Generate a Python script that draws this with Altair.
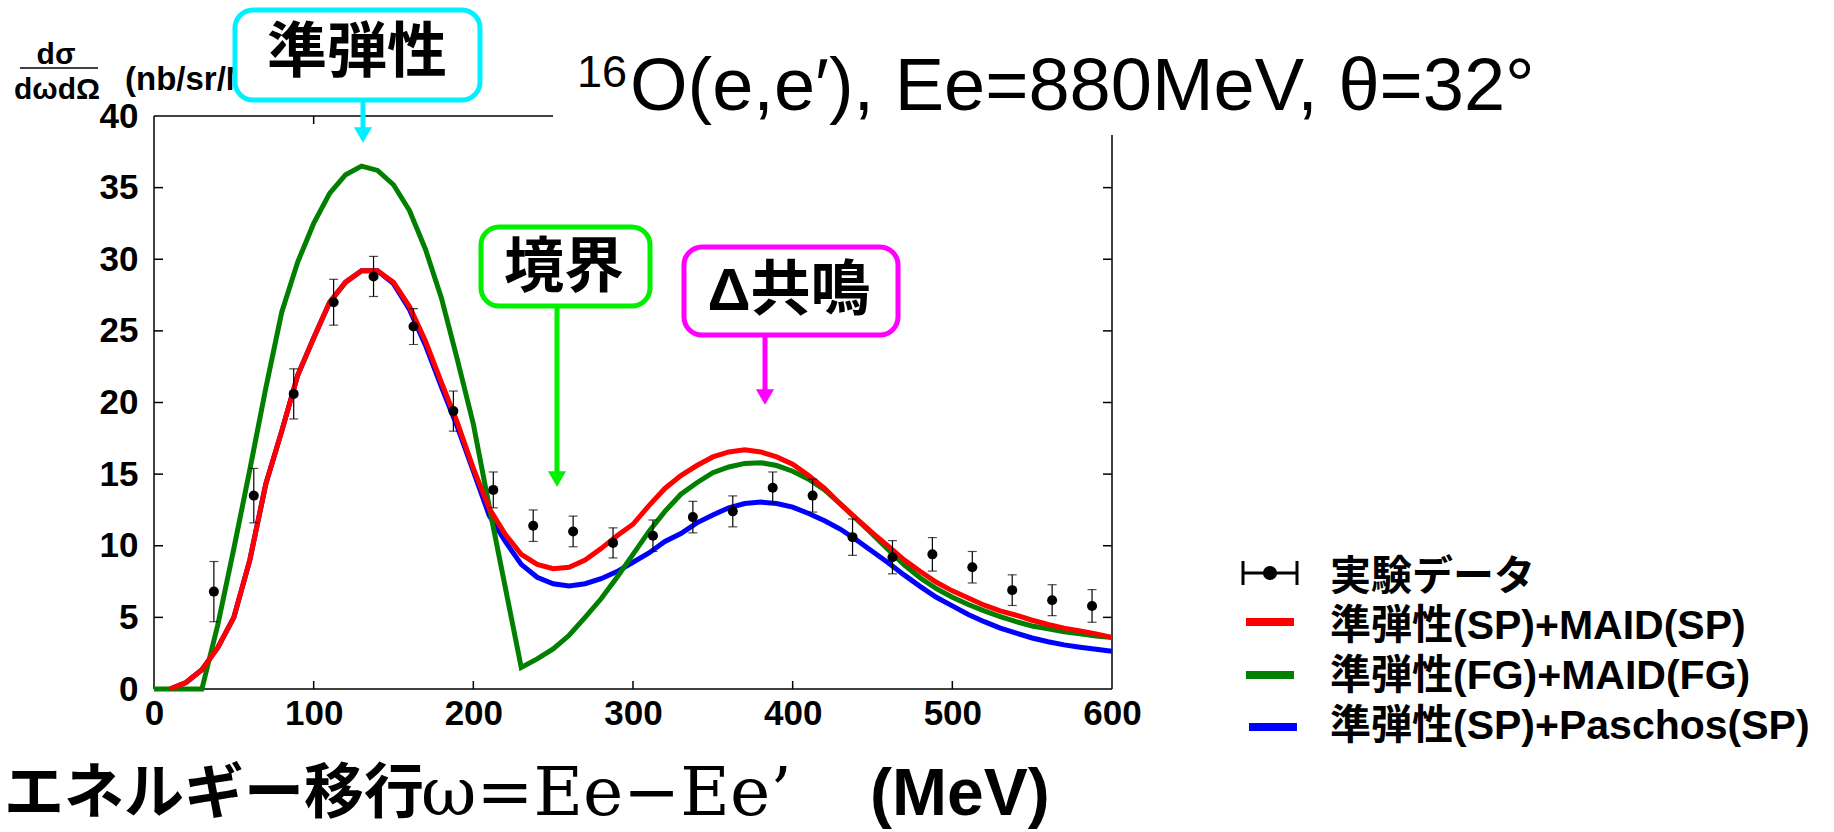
import altair as alt
import pandas as pd

# ---------------- data ----------------
curve_x = [0, 10, 20, 30, 40, 50, 60, 70, 80, 90, 100, 110, 120, 130, 140, 150, 160, 170, 180, 190,
           200, 210, 220, 230, 240, 250, 260, 270, 280, 290, 300, 310, 320, 330, 340, 350, 360, 370,
           380, 390, 400, 410, 420, 430, 440, 450, 460, 470, 480, 490, 500, 510, 520, 530, 540, 550,
           560, 570, 580, 590, 600]

# SP + MAID(SP)  (starts at x=10)
red_y = [0.0, 0.45, 1.35, 2.9, 5.0, 9.0, 14.3, 18.0, 21.9, 24.5, 27.0, 28.4, 29.2, 29.2, 28.4, 26.7,
         24.3, 21.4, 18.6, 15.4, 12.6, 10.8, 9.4, 8.7, 8.4, 8.5, 9.0, 9.8, 10.7, 11.5, 12.8, 14.0, 14.9,
         15.6, 16.2, 16.55, 16.7, 16.55, 16.2, 15.7, 14.9, 14.0, 12.9, 11.9, 10.9, 9.95, 9.0, 8.2, 7.45,
         6.85, 6.35, 5.85, 5.45, 5.15, 4.8, 4.5, 4.25, 4.05, 3.85, 3.6]
# SP + Paschos(SP)  (starts at x=10)
blue_y = [0.0, 0.45, 1.35, 2.9, 5.0, 9.0, 14.3, 18.0, 21.9, 24.5, 27.0, 28.4, 29.2, 29.2, 28.3, 26.5,
          24.0, 21.1, 18.3, 15.2, 12.1, 10.3, 8.7, 7.8, 7.35, 7.2, 7.35, 7.7, 8.2, 8.85, 9.5, 10.3, 10.85,
          11.6, 12.15, 12.65, 12.95, 13.05, 12.95, 12.7, 12.25, 11.75, 11.15, 10.4, 9.6, 8.8, 7.95, 7.15,
          6.4, 5.8, 5.2, 4.7, 4.25, 3.9, 3.56, 3.3, 3.08, 2.92, 2.78, 2.63]
# FG + MAID(FG)  (starts at x=0)
green_y = [0.0, 0.0, 0.0, 0.0, 4.5, 9.8, 15.3, 21.0, 26.3, 29.8, 32.5, 34.6, 35.9, 36.5, 36.2, 35.2, 33.4,
           30.7, 27.3, 23.0, 18.5, 12.7, 7.1, 1.5, 2.1, 2.8, 3.75, 5.0, 6.3, 7.8, 9.4, 11.0, 12.4, 13.6,
           14.4, 15.1, 15.5, 15.75, 15.8, 15.6, 15.2, 14.65, 13.9, 12.9, 11.85, 10.8, 9.7, 8.65, 7.75, 7.0,
           6.4, 5.9, 5.45, 5.05, 4.7, 4.4, 4.2, 4.0, 3.85, 3.7, 3.6]

exp_x = [37.5, 62.5, 87.5, 112.5, 137.5, 162.5, 187.5, 212.5, 237.5, 262.5, 287.5, 312.5, 337.5,
         362.5, 387.5, 412.5, 437.5, 462.5, 487.5, 512.5, 537.5, 562.5, 587.5]
exp_y = [6.8, 13.5, 20.6, 27.0, 28.8, 25.3, 19.4, 13.9, 11.4, 11.0, 10.2, 10.7, 12.0, 12.4, 14.05,
         13.5, 10.6, 9.2, 9.4, 8.5, 6.9, 6.2, 5.8]
exp_err = [2.1, 1.9, 1.75, 1.6, 1.4, 1.25, 1.4, 1.25, 1.1, 1.07, 1.05, 1.1, 1.1, 1.08, 1.1, 1.15,
           1.27, 1.16, 1.17, 1.1, 1.07, 1.08, 1.14]

x_ticks = [0, 100, 200, 300, 400, 500, 600]
y_ticks = [0, 5, 10, 15, 20, 25, 30, 35, 40]
inner_y_ticks = [5, 10, 15, 20, 25, 30, 35]
inner_x_ticks = [100, 200, 300, 400, 500]
top_x_ticks = [100]

legend_labels = ["実験データ", "準弾性(SP)+MAID(SP)", "準弾性(FG)+MAID(FG)", "準弾性(SP)+Paschos(SP)"]
title_sup = "16"
title_main = "O(e,e′), Ee=880MeV, θ=32°"
ylab_num = "dσ"
ylab_den = "dωdΩ"
ylab_unit = "(nb/sr/MeV)"
xlab_jp = "エネルギー移行"
xlab_formula = "ω=Ee−Ee’"
xlab_unit = "(MeV)"
ann_qe = "準弾性"
ann_dip = "境界"
ann_delta = "Δ共鳴"

# ---------------- layout ----------------
W, H = 958, 573
SANS = "Liberation Sans, Noto Sans CJK JP"
CJK = "Noto Sans CJK JP"

xsc = alt.Scale(domain=[0, 600], nice=False, zero=False)
ysc = alt.Scale(domain=[0, 40], nice=False, zero=False)
xax = alt.Axis(values=x_ticks, domain=False, ticks=False, grid=False, title=None,
               labelFont="Liberation Sans", labelFontWeight="bold", labelFontSize=35,
               labelColor="black", labelPadding=7, labelFlush=False)
yax = alt.Axis(values=y_ticks, domain=False, ticks=False, grid=False, title=None,
               labelFont="Liberation Sans", labelFontWeight="bold", labelFontSize=35,
               labelColor="black", labelPadding=16)


def X(f):
    return alt.X(f, type="quantitative", scale=xsc, axis=xax)


def Y(f):
    return alt.Y(f, type="quantitative", scale=ysc, axis=yax)


one = pd.DataFrame({"k": [0]})


def txt(s, x, y, size, font, weight="bold", align="left", baseline="middle", color="black"):
    return alt.Chart(pd.DataFrame({"t": [s]})).mark_text(
        align=align, baseline=baseline, font=font, fontSize=size, fontWeight=weight, color=color
    ).encode(x=alt.value(x), y=alt.value(y), text="t:N")


def seg(x1, y1, x2, y2, color="black", width=1.5):
    return alt.Chart(one).mark_rule(color=color, strokeWidth=width).encode(
        x=alt.value(x1), x2=alt.value(x2), y=alt.value(y1), y2=alt.value(y2))


def box(x1, x2, y1, y2, color):
    return alt.Chart(one).mark_rect(fill="white", stroke=color, strokeWidth=5, cornerRadius=18).encode(
        x=alt.value(x1), x2=alt.value(x2), y=alt.value(y1), y2=alt.value(y2))


def tri(x, y, color, size=330):
    return alt.Chart(one).mark_point(shape="triangle-down", filled=True, size=size, color=color,
                                     opacity=1, strokeWidth=0).encode(x=alt.value(x), y=alt.value(y))


layers = []

# frame
layers += [seg(0, 0, 0, H), seg(0, H, W, H), seg(0, 0, 399, 0), seg(W, 19, W, H)]

# inward ticks
ty = pd.DataFrame({"v": inner_y_ticks})
tx = pd.DataFrame({"v": inner_x_ticks})
ttop = pd.DataFrame({"v": top_x_ticks})
layers.append(alt.Chart(ty).mark_rule(color="black", strokeWidth=1.5).encode(
    y=Y("v"), x=alt.value(0), x2=alt.value(9)))
layers.append(alt.Chart(ty).mark_rule(color="black", strokeWidth=1.5).encode(
    y=Y("v"), x=alt.value(W - 9), x2=alt.value(W)))
layers.append(alt.Chart(tx).mark_rule(color="black", strokeWidth=1.5).encode(
    x=X("v"), y=alt.value(H - 8), y2=alt.value(H)))
layers.append(alt.Chart(ttop).mark_rule(color="black", strokeWidth=1.5).encode(
    x=X("v"), y=alt.value(0), y2=alt.value(8)))

# curves
blue_df = pd.DataFrame({"x": curve_x[1:], "y": blue_y})
green_df = pd.DataFrame({"x": curve_x, "y": green_y})
red_df = pd.DataFrame({"x": curve_x[1:], "y": red_y})
for df, col in [(blue_df, "#0000FF"), (green_df, "#007F00"), (red_df, "#FF0000")]:
    layers.append(alt.Chart(df).mark_line(color=col, strokeWidth=5).encode(x=X("x"), y=Y("y")))

# experimental data
exp_df = pd.DataFrame({"x": exp_x, "y": exp_y, "e": exp_err})
exp_df["lo"] = exp_df["y"] - exp_df["e"]
exp_df["hi"] = exp_df["y"] + exp_df["e"]
layers.append(alt.Chart(exp_df).mark_rule(color="black", strokeWidth=1.2).encode(
    x=X("x"), y=Y("lo"), y2="hi:Q"))
layers.append(alt.Chart(exp_df).mark_tick(orient="horizontal", size=9, thickness=1.2, color="black").encode(
    x=X("x"), y=Y("lo")))
layers.append(alt.Chart(exp_df).mark_tick(orient="horizontal", size=9, thickness=1.2, color="black").encode(
    x=X("x"), y=Y("hi")))
layers.append(alt.Chart(exp_df).mark_circle(color="black", size=100, opacity=1).encode(
    x=X("x"), y=Y("y")))

# y-axis label (fraction)
layers.append(txt(ylab_num, -98, -61, 30, "Liberation Sans", align="center"))
layers.append(seg(-134, -48, -56, -48, width=1.5))
layers.append(txt(ylab_den, -97, -26, 30, "Liberation Sans", align="center"))
layers.append(txt(ylab_unit, -29, -36, 33, "Liberation Sans"))

# title
layers.append(txt(title_sup, 423, -29, 45, "Liberation Sans", weight="normal", baseline="alphabetic"))
layers.append(txt(title_main, 476, -6, 74, "Liberation Sans", weight="normal", baseline="alphabetic"))

# annotation: quasi-elastic
layers.append(seg(209, -16, 209, 20, color="#00F0FF", width=5))
layers.append(tri(209, 19, "#00F0FF"))
layers.append(box(81, 326, -106, -16, "#00F0FF"))
layers.append(txt(ann_qe, 203, -62, 60, CJK, align="center"))

# annotation: dip region
layers.append(seg(403, 190, 403, 364, color="#00F000", width=5))
layers.append(tri(403, 363, "#00F000"))
layers.append(box(327, 496, 111, 190, "#00F000"))
layers.append(txt(ann_dip, 410, 153, 60, CJK, align="center"))

# annotation: delta resonance
layers.append(seg(611, 219, 611, 282, color="#FF00FF", width=5))
layers.append(tri(611, 281, "#FF00FF"))
layers.append(box(530, 744, 131, 219, "#FF00FF"))
layers.append(txt(ann_delta, 635, 176, 60, SANS, align="center"))

# legend
layers.append(seg(1089, 457, 1143, 457, width=3))
layers.append(seg(1089, 445, 1089, 469, width=3))
layers.append(seg(1143, 445, 1143, 469, width=3))
layers.append(alt.Chart(one).mark_circle(color="black", size=200, opacity=1).encode(
    x=alt.value(1116), y=alt.value(457)))
layers.append(seg(1092, 506, 1140, 506, color="#FF0000", width=8))
layers.append(seg(1092, 559, 1140, 559, color="#007F00", width=8))
layers.append(seg(1095, 611, 1143, 611, color="#0000FF", width=8))
for lab, yy in zip(legend_labels, [462, 511, 561, 611]):
    layers.append(txt(lab, 1176, yy, 41, SANS))

# x-axis title
layers.append(txt(xlab_jp, -150, 679, 60, CJK))
layers.append(txt(xlab_formula, 267, 679, 68, "DejaVu Serif", weight="normal"))
layers.append(txt(xlab_unit, 716, 679, 66, "Liberation Sans"))

chart = alt.layer(*layers).properties(
    width=W, height=H,
    autosize=alt.AutoSizeParams(type="none"),
    padding={"left": 154, "top": 116, "right": 722, "bottom": 143},
    background="white",
).configure_view(strokeWidth=0)

chart.save("out.html", embed_options={"renderer": "svg", "actions": False})
